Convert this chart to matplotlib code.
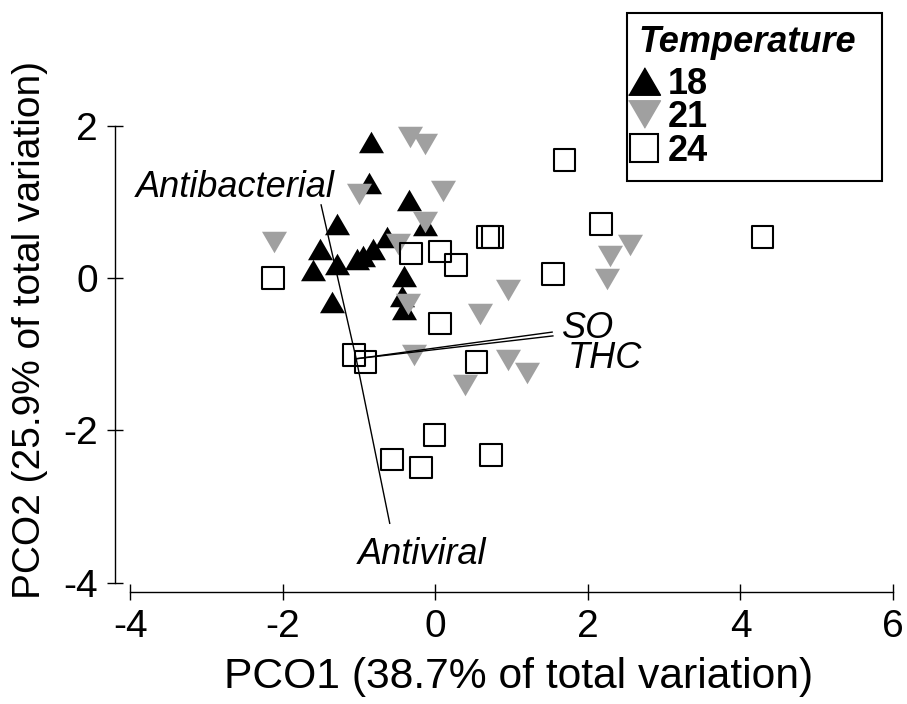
import matplotlib
matplotlib.use('Agg')
import matplotlib.pyplot as plt
from matplotlib.lines import Line2D

fontsize = 28
xlabel_size = 30.7
ylabel_size = 28
text_size = 26
legend_size = 26

matplotlib.rcParams['font.family'] = 'Liberation Sans'
matplotlib.rcParams['font.size'] = fontsize

# PCO scores, temperature 18
pco1_18 = [-0.85, -0.87, -0.35, -0.14, -1.29, -1.51, -1.61, -1.29, -1.36,
           -1.03, -0.95, -0.82, -0.64, -0.41, -0.44, -0.41]
pco2_18 = [1.79, 1.25, 1.02, 0.70, 0.71, 0.38, 0.11, 0.18, -0.32,
           0.25, 0.29, 0.38, 0.54, 0.03, -0.24, -0.41]

# PCO scores, temperature 21
pco1_21 = [-0.33, -0.14, -1.00, 0.10, -0.14, -2.12, -0.49, -0.36, 0.95,
           0.58, -0.28, 0.95, 1.20, 0.39, 2.25, 2.29, 2.55]
pco2_21 = [1.85, 1.76, 1.10, 1.14, 0.74, 0.47, 0.45, -0.34, -0.16,
           -0.47, -1.01, -1.08, -1.25, -1.40, -0.01, 0.29, 0.43]

# PCO scores, temperature 24
pco1_24 = [1.69, 2.17, 1.54, 4.29, 0.69, 0.75, -0.32, 0.06, 0.27,
           0.06, 0.54, -2.13, -1.07, -0.92, -0.01, -0.57, -0.19, 0.73]
pco2_24 = [1.55, 0.71, 0.05, 0.54, 0.54, 0.54, 0.32, 0.35, 0.17,
           -0.60, -1.10, 0.00, -1.01, -1.10, -2.06, -2.38, -2.49, -2.32]

# vector overlay (end points, common origin)
vector_names = ['Antibacterial', 'Antiviral', 'SO', 'THC']
vector_x = [-1.50, -0.60, 1.53, 1.54]
vector_y = [0.96, -3.22, -0.71, -0.76]
origin_x = -1.04
origin_y = -1.06

x_ticks = [-4, -2, 0, 2, 4, 6]
y_ticks = [-4, -2, 0, 2]
legend_labels = ['18', '21', '24']

# label placement for the vector names (offset in points, alignment)
vector_label_style = {
    'Antibacterial': ((10, 6), 'right', 'baseline'),
    'Antiviral': ((23, -29), 'center', 'baseline'),
    'SO': ((7, -4), 'left', 'baseline'),
    'THC': ((11, -23), 'left', 'baseline'),
}

up_tri = [(-1, -0.86), (1, -0.86), (0, 0.86)]
down_tri = [(-1, 0.86), (1, 0.86), (0, -0.86)]
grey = '#a0a0a0'

fig = plt.figure(figsize=(9.07, 7.04), dpi=100)
ax = fig.add_axes([115 / 907, 112 / 704, 792 / 907, 592 / 704])

ax.scatter(pco1_18, pco2_18, marker=up_tri, s=18 ** 2, color='black', linewidths=0, zorder=2)
ax.scatter(pco1_21, pco2_21, marker=down_tri, s=18 ** 2, color=grey, linewidths=0, zorder=3)
ax.scatter(pco1_24, pco2_24, marker='s', s=15.5 ** 2, facecolors='none', edgecolors='black',
           linewidths=1.5, zorder=4)

# vectors
for name, vx, vy in zip(vector_names, vector_x, vector_y):
    ax.plot([origin_x, vx], [origin_y, vy], color='black', linewidth=1.0, zorder=5)
    offset, ha, va = vector_label_style[name]
    ax.annotate(name, xy=(vx, vy), xytext=offset, textcoords='offset points',
                ha=ha, va=va, fontsize=text_size, style='italic')

# axes limits so that the spines sit like in a range frame
ax.set_xlim(-4.203, 6.184)
ax.set_ylim(-4.122, 3.650)
ax.set_xticks(x_ticks)
ax.set_yticks(y_ticks)
ax.set_xticklabels([str(t) for t in x_ticks])
ax.set_yticklabels([str(t) for t in y_ticks])

ax.spines['top'].set_visible(False)
ax.spines['right'].set_visible(False)
ax.spines['left'].set_bounds(-4, 2)
ax.spines['bottom'].set_bounds(-4, 6)
ax.spines['left'].set_linewidth(1.0)
ax.spines['bottom'].set_linewidth(1.0)
ax.tick_params(direction='inout', length=12, width=1.0, pad=6.5, labelsize=fontsize)

ax.set_xlabel('PCO1 (38.7% of total variation)', fontsize=xlabel_size)
ax.set_ylabel('PCO2 (25.9% of total variation)', fontsize=ylabel_size)
ax.xaxis.set_label_coords(0.509, -0.110)
ax.yaxis.set_label_coords(-0.0846, 0.443)

# legend
handles = [
    Line2D([], [], marker=up_tri, color='black', markersize=23, linestyle='none'),
    Line2D([], [], marker=down_tri, color=grey, markersize=23, linestyle='none'),
    Line2D([], [], marker='s', markerfacecolor='none', markeredgecolor='black',
           markeredgewidth=1.5, markersize=20, linestyle='none'),
]
leg = ax.legend(handles, legend_labels, title='Temperature', loc='upper left',
                bbox_to_anchor=(627 / 907, 1 - 180 / 704, 255 / 907, 167 / 704),
                bbox_transform=fig.transFigure, mode='expand',
                borderaxespad=0, borderpad=0.33, handlelength=0.3, handletextpad=0.5,
                labelspacing=-0.04, alignment='left', fancybox=False, framealpha=1,
                edgecolor='black', prop={'weight': 'bold', 'size': legend_size},
                title_fontproperties={'weight': 'bold', 'style': 'italic', 'size': legend_size})
leg.get_frame().set_linewidth(1.5)
leg._legend_box.sep = 4.75  # a little more room under the title

fig.savefig('out.png', dpi=100)
